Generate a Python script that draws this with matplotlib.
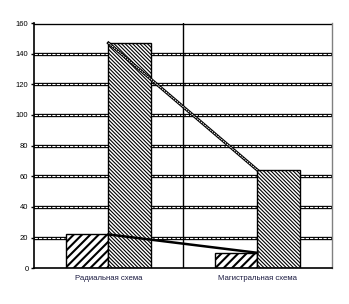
import numpy as np
from matplotlib import pyplot as plt

categories = ['Радиальная схема', 'Магистральная схема']
series_a = [22, 10]
series_b = [147, 64]
y_ticks = [0, 20, 40, 60, 80, 100, 120, 140, 160]

plt.rcParams['font.family'] = ['Liberation Sans', 'DejaVu Sans']

fig = plt.figure(figsize=(3.49, 3.04), dpi=100)
ax = fig.add_axes([0.0974, 0.118, 0.8536, 0.806])

x = np.arange(len(categories))
width = 0.286

# gridlines: black double line with white dashes inside
for yv in y_ticks[1:]:
    ax.axhline(yv, color='black', lw=2.4, zorder=1)
    if yv == y_ticks[-1]:
        ax.axhline(yv, color='white', lw=0.6, zorder=1.1)
    else:
        ax.axhline(yv, color='white', lw=0.8, ls=(0, (3, 1)), zorder=1.1)

ax.axvline(0.5, color='black', lw=1.0, zorder=1.2)

bars_a = ax.bar(x - width, series_a, width, align='edge', color='white',
                edgecolor='black', linewidth=1.0, hatch='////', zorder=2)
bars_b = ax.bar(x, series_b, width, align='edge', color='white',
                edgecolor='black', linewidth=1.0, hatch='\\' * 9, zorder=2)
for b in bars_a:
    if hasattr(b, 'set_hatch_linewidth'):
        b.set_hatch_linewidth(1.5)
for b in bars_b:
    if hasattr(b, 'set_hatch_linewidth'):
        b.set_hatch_linewidth(0.8)

# connecting lines
ax.plot(x, series_b, color='black', lw=2.2, zorder=3)
ax.plot(x, series_b, color='white', lw=0.7, ls=(0, (1.5, 1)), zorder=3.1)
ax.plot(x, series_a, color='black', lw=1.8, zorder=3)

ax.set_xlim(-0.5, 1.5)
ax.set_ylim(0, 160)
ax.set_yticks(y_ticks)
ax.set_xticks(x)
ax.set_xticklabels(categories, fontsize=5.6, color='#1a1a40')
ax.tick_params(axis='y', labelsize=5.5, length=2.5, width=1.0, pad=1.5)
ax.tick_params(axis='x', length=0, pad=5)

ax.spines['top'].set_visible(False)
ax.spines['left'].set_linewidth(1.2)
ax.spines['bottom'].set_linewidth(1.2)
ax.spines['right'].set_color('#808080')
ax.spines['right'].set_linewidth(1.0)

fig.savefig('out.png', dpi=100)
